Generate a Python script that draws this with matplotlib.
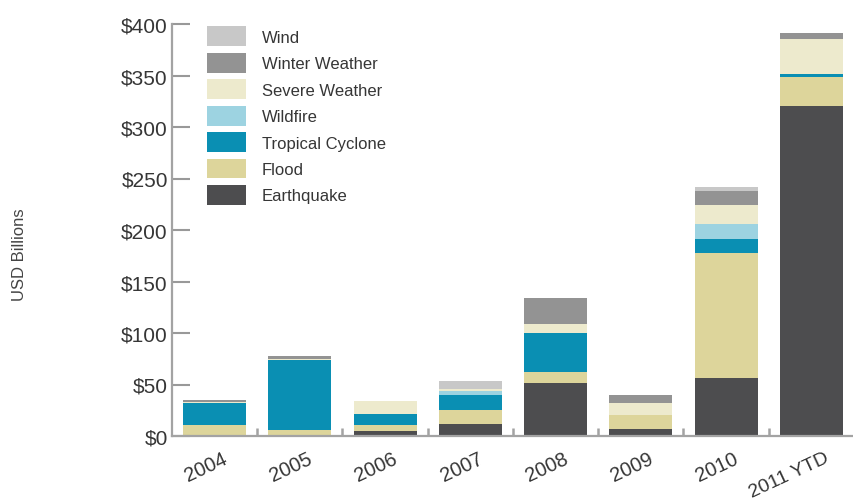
import matplotlib
matplotlib.use("Agg")
import matplotlib.pyplot as plt
import matplotlib.transforms as mtransforms
import numpy as np
from matplotlib.patches import Patch

plt.rcParams['font.family'] = ['Liberation Sans', 'DejaVu Sans']

years = ["2004", "2005", "2006", "2007", "2008", "2009", "2010", "2011 YTD"]
earthquake = [0, 0, 4.5, 11.5, 51.5, 6.5, 56.5, 320]
flood = [11, 6, 6.5, 13.5, 10.5, 14, 121, 28.5]
tropical_cyclone = [21, 68, 10, 15, 38, 0, 13.5, 2.5]
wildfire = [0, 0, 0, 4, 0, 0, 15, 0]
severe_weather = [1, 1, 13, 2, 9, 12, 18, 34]
winter_weather = [2, 3, 0, 0, 24.5, 7, 13.5, 6.5]
wind = [0, 0, 0, 7, 0, 0, 4, 0]

series = [
    ("Earthquake", earthquake, "#4d4d4f"),
    ("Flood", flood, "#ddd59b"),
    ("Tropical Cyclone", tropical_cyclone, "#0a8fb3"),
    ("Wildfire", wildfire, "#9dd3e1"),
    ("Severe Weather", severe_weather, "#edeacd"),
    ("Winter Weather", winter_weather, "#939393"),
    ("Wind", wind, "#c8c8c8"),
]

fig = plt.figure(figsize=(8.54, 5.02), dpi=100)
ax = fig.add_axes([172/854, 1-437/502, 1-172/854, 412/502])

x = np.arange(len(years))
bottom = np.zeros(len(years))
for name, vals, col in series:
    v = np.array(vals, dtype=float)
    ax.bar(x, v, bottom=bottom, width=0.74, color=col, edgecolor='none', label=name)
    bottom += v

ax.set_xlim(-0.5, len(years) - 0.5)
ax.set_ylim(0, 400)

for s in ['top', 'right']:
    ax.spines[s].set_visible(False)
for s in ['left', 'bottom']:
    ax.spines[s].set_color('#a3a3a3')
    ax.spines[s].set_linewidth(1.6)

yt = np.arange(0, 401, 50)
ax.set_yticks(yt)
ax.set_yticklabels([f"${v}" for v in yt])
ax.tick_params(axis='y', direction='in', length=13, width=1.5, color='#999999',
               labelsize=15, labelcolor='#363636', pad=3)

ax.set_xticks(x)
ax.set_xticklabels(years, rotation=25, ha='center')
ax.tick_params(axis='x', which='major', length=0, labelsize=14.5, labelcolor='#363636', pad=9)
ax.set_xticks(np.arange(-0.5, len(years), 1.0)[1:], minor=True)
ax.tick_params(axis='x', which='minor', direction='in', length=6, width=1.8, color='#a3a3a3')

labs = ax.get_xticklabels()
for i, lab in enumerate(labs):
    dx = -22 if i == len(labs) - 1 else -9
    offset = mtransforms.ScaledTranslation(dx/100, 0, fig.dpi_scale_trans)
    lab.set_transform(lab.get_transform() + offset)
labs[-1].set_fontsize(14)

fig.text(20/854, 1-255/502, "USD Billions", rotation=90, ha='center', va='center',
         fontsize=12, color='#444444')

handles = [Patch(facecolor=col, edgecolor='none', label=name) for name, vals, col in series][::-1]
leg = fig.legend(handles=handles, loc='upper left', bbox_to_anchor=(194/854, 1-14/502),
                 frameon=False, fontsize=12, handlelength=2.3, handleheight=1.45,
                 labelspacing=0.40, handletextpad=0.95, borderpad=0.3)
for t in leg.get_texts():
    t.set_color('#363636')

fig.savefig("out.png", dpi=100)
